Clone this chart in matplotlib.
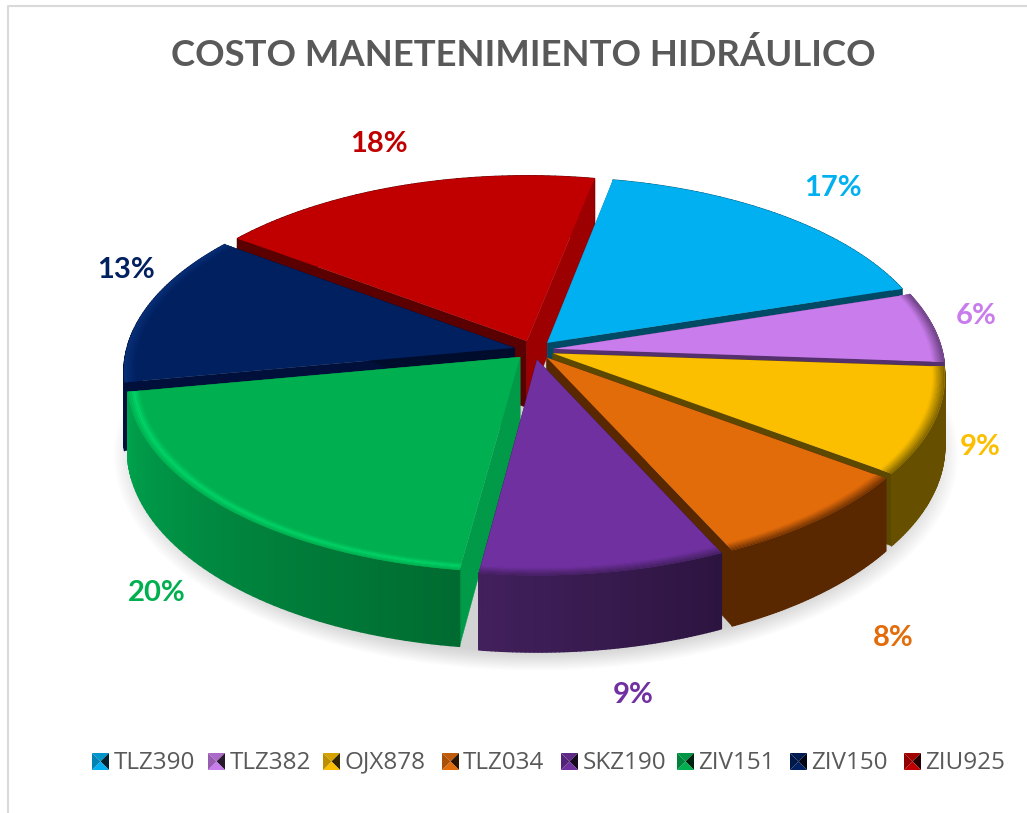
import numpy as np
import matplotlib
matplotlib.use("Agg")
import matplotlib.pyplot as plt
from matplotlib.collections import PolyCollection
from matplotlib.colors import to_rgb

title = "COSTO MANETENIMIENTO HIDRÁULICO"
names = ["TLZ390", "TLZ382", "OJX878", "TLZ034", "SKZ190", "ZIV151", "ZIV150", "ZIU925"]
values = [17, 6, 9, 8, 9, 20, 13, 18]
colors = ["#00B0F0", "#C97CEC", "#FBBF00", "#E26B0A", "#7030A0", "#00B050", "#002060", "#C00000"]

# side wall colour at start / end of each slice, cut faces, rim of the bevel
side_a = ["#005a7a", "#6a4080", "#665000", "#5a2800", "#2c1440", "#006b30", "#001440", "#600000"]
side_b = ["#005a7a", "#6a4080", "#665000", "#5a2800", "#42205c", "#00a34e", "#001c58", "#600000"]
cut_a = ["#008ac0", "#7a4d90", "#5c4800", "#5a2800", "#3a1a58", "#009a48", "#00103a", "#5a0000"]
cut_b = ["#004a66", "#54306c", "#5c4800", "#5a2800", "#3a1a58", "#009a48", "#000c2c", "#9c0000"]
rim = ["#00b0f0", "#6a4080", "#7a6000", "#6e3204", "#43205e", "#00d468", "#0a3078", "#c00000"]

label_xy = [(833, 188), (976, 316), (980, 447), (893, 638), (633, 695), (157, 593), (126, 270), (379, 144)]
legend_x = [92, 208, 323, 442, 561, 677, 790, 904]
legend_text_x = [114, 230, 345, 463, 583, 698, 811, 925]

cx, cy = 534, 350
a, b, k = 402, 194, 0.125
depth = 67
off, rad = 0.05, 0.965
start = 11.2


def proj(x, y, z=0):
    w = 1 + k * y
    return np.column_stack([cx + a * x / w, cy - (b * y - z) / w])


def blend(c1, c2, t):
    return tuple((1 - t) * np.array(to_rgb(c1)) + t * np.array(to_rgb(c2)))


def arc(mid, th, r):
    return off * np.sin(mid) + r * np.sin(th), off * np.cos(mid) + r * np.cos(th)


fig = plt.figure(figsize=(10.27, 8.13), dpi=100)
ax = fig.add_axes([0, 0, 1, 1])
ax.set_xlim(0, 1027)
ax.set_ylim(813, 0)
ax.axis("off")

ax.plot([8, 8, 1027], [813, 6.5, 6.5], color="#d9d9d9", lw=1.5)

# soft shadow under the pie
th = np.linspace(0, 2 * np.pi, 200)
for s in np.linspace(1.04, 0.97, 12):
    xy = proj(s * np.sin(th) + 0.005, s * np.cos(th), depth + 10)
    ax.fill(xy[:, 0], xy[:, 1], color="#808080", alpha=0.03, lw=0, zorder=1)

edges = start + np.cumsum([0] + values) * 3.6
order = [7, 6, 0, 1, 2, 3, 5, 4]
z = 2
for i in order:
    t0, t1 = np.deg2rad(edges[i]), np.deg2rad(edges[i + 1])
    mid = (t0 + t1) / 2
    ts = np.linspace(t0, t1, 60)
    ax0, ay0 = off * np.sin(mid), off * np.cos(mid)
    x, y = arc(mid, ts, rad)

    # back slices: wall goes under the cut faces, front slices: over them
    wall_z = z if np.cos(mid) > 0 else z + 3
    cut_z = z + 1 if np.cos(mid) > 0 else z

    # cut faces
    for tt, col in ((t0, cut_a[i]), (t1, cut_b[i])):
        ex, ey = arc(mid, tt, rad)
        top = proj(np.array([ax0, ex]), np.array([ay0, ey]))
        bot = proj(np.array([ax0, ex]), np.array([ay0, ey]), depth)
        ax.fill(np.r_[top[:, 0], bot[::-1, 0]], np.r_[top[:, 1], bot[::-1, 1]],
                color=col, lw=0.3, zorder=cut_z)
    z += 4

    # outer wall
    up = proj(x, y)
    low = proj(x, y, depth)
    polys = [np.vstack([up[j], up[j + 1], low[j + 1], low[j]]) for j in range(len(ts) - 1)]
    cols = [blend(side_a[i], side_b[i], j / (len(ts) - 2)) for j in range(len(ts) - 1)]
    ax.add_collection(PolyCollection(polys, facecolors=cols, edgecolors=cols, linewidths=1.0, zorder=wall_z))

    # top face
    tp = proj(np.r_[ax0, x], np.r_[ay0, y])
    ax.fill(tp[:, 0], tp[:, 1], color=colors[i], lw=0, zorder=z)
    z += 1

    # bevel along the outer edge
    n = 7
    for m in range(n):
        r0 = rad - 0.03 * (1 - m / n)
        r1 = rad - 0.03 * (1 - (m + 1) / n)
        x0, y0 = arc(mid, ts, r0)
        x1, y1 = arc(mid, ts, r1)
        p0, p1 = proj(x0, y0), proj(x1, y1)
        if i == 5:
            tone = 1 - abs(2 * (m + 0.5) / n - 1)
        else:
            tone = (m + 0.5) / n
        ax.fill(np.r_[p0[:, 0], p1[::-1, 0]], np.r_[p0[:, 1], p1[::-1, 1]],
                color=blend(colors[i], rim[i], tone), lw=0.2, zorder=z)
    z += 1

ax.text(523, 55, title, fontsize=26.3, fontweight="bold", family="Lato", color="#595959",
        ha="center", va="center")

for i, v in enumerate(values):
    ax.text(label_xy[i][0], label_xy[i][1], f"{v}%", fontsize=21, fontweight="bold", family="Lato",
            color=colors[i], ha="center", va="center", zorder=200)

# legend keys: little pyramids
s = 17
ky = 753
for i, name in enumerate(names):
    lx = legend_x[i]
    c = (lx + s / 2, ky + s / 2)
    corners = [(lx, ky), (lx + s, ky), (lx + s, ky + s), (lx, ky + s)]
    tones = [blend(colors[i], "#000000", 0.15), blend(colors[i], "#000000", 0.8), colors[i],
             blend(colors[i], "#000000", 0.25)]
    for j in range(4):
        ax.fill([corners[j][0], corners[(j + 1) % 4][0], c[0]],
                [corners[j][1], corners[(j + 1) % 4][1], c[1]], color=tones[j], lw=0, zorder=200)
    ax.text(legend_text_x[i], ky + s / 2 + 1, name, fontsize=17.5, family="Open Sans", color="#595959",
            ha="left", va="center", zorder=200)

fig.savefig("out.png", dpi=100)
